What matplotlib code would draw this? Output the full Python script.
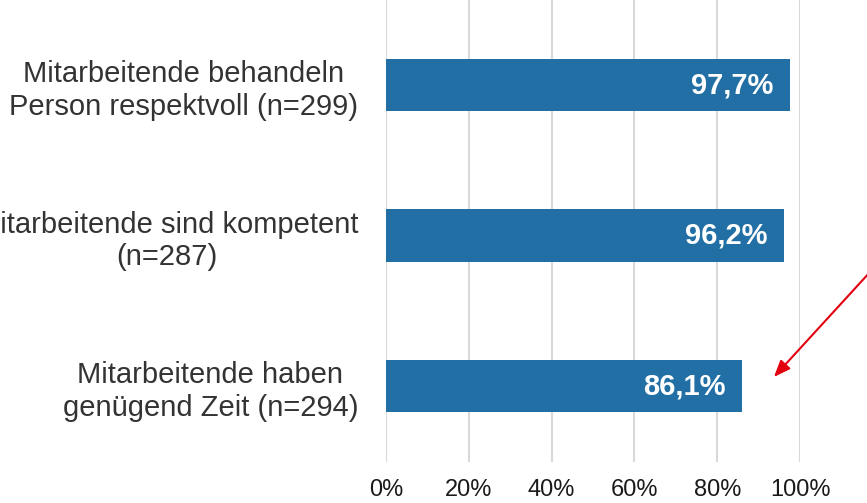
import matplotlib.pyplot as plt

plt.rcParams['font.family'] = ['Liberation Sans', 'DejaVu Sans']

# data (top to bottom)
categories = [
    "Mitarbeitende behandeln\nPerson respektvoll (n=299)",
    "Mitarbeitende sind kompetent\n(n=287)",
    "Mitarbeitende haben\ngenügend Zeit (n=294)",
]
values = [97.7, 96.2, 86.1]
value_labels = ["97,7%", "96,2%", "86,1%"]
x_ticks = [0, 20, 40, 60, 80, 100]
x_tick_labels = ["0%", "20%", "40%", "60%", "80%", "100%"]

bar_colour = "#216FA5"
grid_colour = "#D9D9D9"

fig = plt.figure(figsize=(8.67, 5.03), dpi=100)
ax = fig.add_axes([386 / 867, 1 - 462 / 503, (800 - 386) / 867, 462 / 503])

pos = list(range(len(categories)))
ax.barh(pos, values, height=0.35, color=bar_colour, zorder=3)

for p, v, lab in zip(pos, values, value_labels):
    ax.text(v - 4.1, p, lab, ha='right', va='center', color='white',
            fontsize=21, fontweight='bold', zorder=4)

ax.set_xlim(0, 100)
ax.set_ylim(2.505, -0.565)
ax.set_xticks(x_ticks, x_tick_labels)
ax.set_yticks(pos, categories)
for t in ax.get_yticklabels():
    t.set_multialignment('center')
    t.set_linespacing(1.22)

ax.tick_params(axis='x', length=0, pad=12, labelsize=17, labelcolor='#1a1a1a')
ax.tick_params(axis='y', length=0, pad=20, labelsize=21, labelcolor='#333333')

ax.grid(axis='x', color=grid_colour, linewidth=1.5, zorder=0)
ax.set_axisbelow(True)
for s in ax.spines.values():
    s.set_visible(False)

# red arrow pointing at lowest bar
ax.annotate("", xy=(93.7, 1.94), xytext=(116.5, 1.255),
            xycoords='data', textcoords='data', annotation_clip=False,
            arrowprops=dict(arrowstyle='-|>,head_length=1.0,head_width=0.4',
                            color='#E3000F', lw=1.5, shrinkA=0, shrinkB=0))

fig.savefig("out.png", dpi=100)
